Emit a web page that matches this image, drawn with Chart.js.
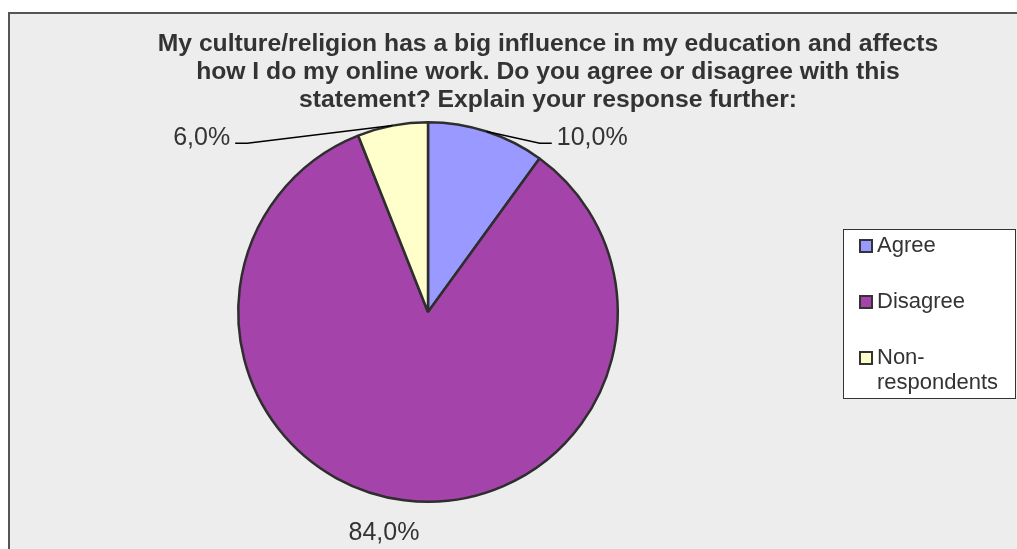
<!DOCTYPE html>
<html>
<head>
<meta charset="utf-8">
<title>Culture / religion influence</title>
<script src="https://cdn.jsdelivr.net/npm/chart.js@4"></script>
<style>
  html, body { margin: 0; padding: 0; background: #ffffff; }
  #wrap { width: 1017px; height: 549px; }
</style>
</head>
<body>
<div id="wrap"><canvas id="pieChart" width="1017" height="549"></canvas></div>
<script>
// Survey answers
const categories = ["Agree", "Disagree", "Non-respondents"];
const shares = [10.0, 84.0, 6.0];
const sliceColors = ["#9999ff", "#a443aa", "#ffffcc"];
const legendLines = [["Agree"], ["Disagree"], ["Non-", "respondents"]];
const titleLines = [
    "My culture/religion has a big influence in my education and affects",
    "how I do my online work. Do you agree or disagree with this",
    "statement? Explain your response further:"
];

const FONT = "'Liberation Sans', Arial, sans-serif";
const TEXT = "#333333";

// where each percentage label sits, in units of the pie radius from its centre
// side: 1 = text to the right of the leader, -1 = to the left, 0 = no leader
const labelSpots = [
    { dx: 0.589, dy: -0.889, side: 1 },
    { dx: -0.232, dy: 1.2, side: 0 },
    { dx: -0.953, dy: -0.889, side: -1 }
];

function fmt(v) {
    return v.toFixed(1).replace(".", ",") + "%";
}

const frame = {
    id: "frame",
    beforeDraw(chart) {
        const ctx = chart.ctx;
        ctx.save();
        ctx.fillStyle = "#ededed";
        ctx.fillRect(8, 12, chart.width, chart.height);
        ctx.strokeStyle = "#555555";
        ctx.lineWidth = 2;
        ctx.beginPath();
        ctx.moveTo(9, chart.height + 2);
        ctx.lineTo(9, 13);
        ctx.lineTo(chart.width + 2, 13);
        ctx.stroke();
        ctx.restore();
    },
    afterDraw(chart) {
        const ctx = chart.ctx;
        ctx.save();

        // title
        ctx.fillStyle = TEXT;
        ctx.textAlign = "center";
        ctx.textBaseline = "alphabetic";
        ctx.font = "bold 24.7px " + FONT;
        titleLines.forEach((line, i) => ctx.fillText(line, 548, 51 + i * 28));

        // percentage labels with leader lines
        const meta = chart.getDatasetMeta(0);
        ctx.font = "25px " + FONT;
        ctx.strokeStyle = "#000000";
        ctx.lineWidth = 1.5;
        meta.data.forEach((arc, i) => {
            const r = arc.outerRadius;
            const spot = labelSpots[i];
            const ex = arc.x + spot.dx * r;
            const ey = arc.y + spot.dy * r;
            const text = fmt(shares[i]);
            ctx.textBaseline = "alphabetic";
            if (spot.side === 0) {
                ctx.textAlign = "center";
                ctx.fillText(text, ex, ey);
                return;
            }
            const mid = (arc.startAngle + arc.endAngle) / 2;
            const sx = arc.x + Math.cos(mid) * r;
            const sy = arc.y + Math.sin(mid) * r;
            const tx = ex + spot.side * 12;
            ctx.beginPath();
            ctx.moveTo(sx, sy);
            ctx.lineTo(ex, ey);
            ctx.lineTo(tx, ey);
            ctx.stroke();
            ctx.textAlign = spot.side > 0 ? "left" : "right";
            ctx.fillText(text, tx + spot.side * 5, ey + 2);
        });

        // legend box
        ctx.fillStyle = "#ffffff";
        ctx.fillRect(843, 229, 173, 169);
        ctx.strokeStyle = "#333333";
        ctx.lineWidth = 1;
        ctx.strokeRect(843.5, 229.5, 172, 169);
        ctx.font = "22px " + FONT;
        ctx.textAlign = "left";
        ctx.textBaseline = "middle";
        const rowY = [246, 302, 358];
        categories.forEach((name, i) => {
            ctx.fillStyle = sliceColors[i];
            ctx.fillRect(860, rowY[i] - 6, 12, 12);
            ctx.strokeStyle = "#333333";
            ctx.lineWidth = 2;
            ctx.strokeRect(860, rowY[i] - 6, 12, 12);
            ctx.fillStyle = TEXT;
            legendLines[i].forEach((t, j) => ctx.fillText(t, 877, rowY[i] + j * 25));
        });
        ctx.restore();
    }
};

new Chart(document.getElementById("pieChart"), {
    type: "pie",
    data: {
        labels: categories,
        datasets: [{
            data: shares,
            backgroundColor: sliceColors,
            borderColor: "#2e2e2e",
            borderWidth: 2.5
        }]
    },
    options: {
        responsive: false,
        animation: false,
        layout: { padding: { left: 237, right: 398, top: 121, bottom: 46 } },
        plugins: {
            legend: { display: false },
            title: { display: false },
            tooltip: { enabled: false }
        }
    },
    plugins: [frame]
});
</script>
</body>
</html>
